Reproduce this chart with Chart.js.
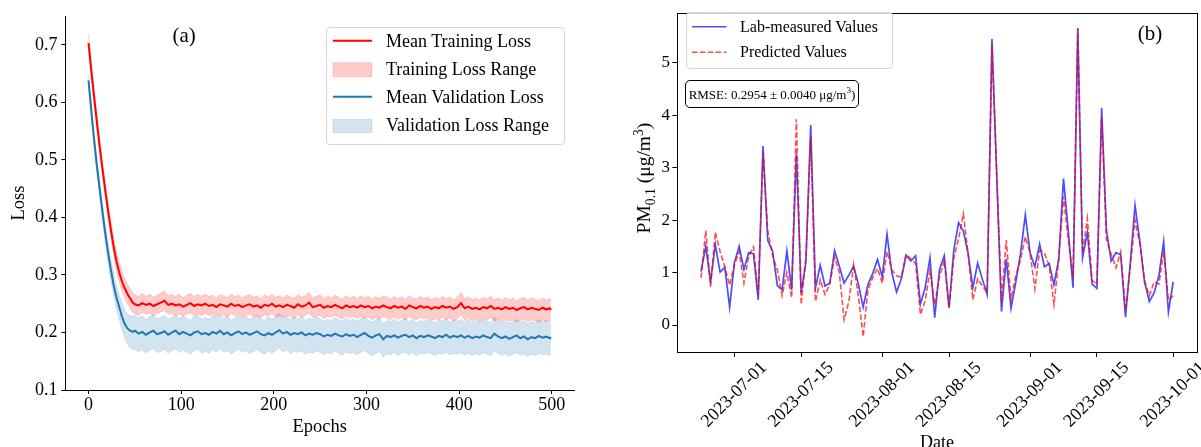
<!DOCTYPE html>
<html><head><meta charset="utf-8">
<script src="https://cdn.jsdelivr.net/npm/chart.js@4.4.1/dist/chart.umd.min.js"></script>
<style>
html,body{margin:0;padding:0;background:#fff;}
#wrap{position:relative;width:1201px;height:447px;overflow:hidden;font-family:'Liberation Serif','Times New Roman',serif;color:#000;}
#ca,#cb{position:absolute;top:0;}
#ca{left:0;} #cb{left:600px;}
.t{position:absolute;white-space:nowrap;line-height:1;transform:translate(0,-50%);}
.c{position:absolute;white-space:nowrap;line-height:1;transform:translate(-50%,-50%);}
.box{position:absolute;box-sizing:border-box;}
sub,sup{font-size:70%;line-height:0;}
</style></head><body>
<div id="wrap">
<canvas id="ca" width="600" height="447"></canvas>
<canvas id="cb" width="601" height="447"></canvas>

<div class="box" style="left:326px;top:26.7px;width:239px;height:118.3px;background:rgba(255,255,255,0.8);border:1px solid #d6d6d6;border-radius:4px;"></div>
<div class="box" style="left:686px;top:12.3px;width:207px;height:57px;background:rgba(255,255,255,0.8);border:1px solid #d6d6d6;border-radius:4px;"></div>
<div class="box" style="left:685px;top:80px;width:174px;height:28.3px;background:#fff;border:1.2px solid #000;border-radius:5px;"></div>

<svg style="position:absolute;left:0;top:0;" width="1201" height="447">
  <line x1="333" y1="40.7" x2="372" y2="40.7" stroke="#ff0000" stroke-width="2"/>
  <rect x="333" y="62.7" width="39" height="14" fill="rgba(255,0,0,0.2)" stroke="rgba(255,0,0,0.15)" stroke-width="1"/>
  <line x1="333" y1="96.7" x2="372" y2="96.7" stroke="#1f77b4" stroke-width="2"/>
  <rect x="333" y="119.3" width="39" height="13.4" fill="rgba(31,119,180,0.2)" stroke="rgba(31,119,180,0.15)" stroke-width="1"/>
  <line x1="692" y1="26.7" x2="726.5" y2="26.7" stroke="rgba(0,0,255,0.7)" stroke-width="1.6"/>
  <line x1="692" y1="52.3" x2="726.5" y2="52.3" stroke="rgba(255,0,0,0.7)" stroke-width="1.6" stroke-dasharray="5.5 2.4"/>
</svg>

<div class="t" style="left:386px;top:41.3px;font-size:18px;">Mean Training Loss</div>
<div class="t" style="left:386px;top:69px;font-size:18px;">Training Loss Range</div>
<div class="t" style="left:386px;top:97px;font-size:18px;">Mean Validation Loss</div>
<div class="t" style="left:386px;top:125px;font-size:18px;">Validation Loss Range</div>

<div class="t" style="left:740px;top:26.7px;font-size:16px;">Lab-measured Values</div>
<div class="t" style="left:740px;top:52.3px;font-size:16px;">Predicted Values</div>

<div class="c" style="left:772px;top:94.2px;font-size:13px;">RMSE: 0.2954 ± 0.0040 μg/m<sup>3</sup>)</div>

<div class="c" style="left:184.2px;top:34.8px;font-size:21px;">(a)</div>
<div class="c" style="left:1150px;top:32.6px;font-size:21px;">(b)</div>

<div class="c" style="left:644px;top:177.6px;font-size:19.5px;transform:translate(-50%,-50%) rotate(-90deg);">PM<sub>0.1</sub> (μg/m<sup>3</sup>)</div>
</div>

<script>
// ---------------- Panel (a): loss curves ----------------
const epochs = [0,3,6,9,12,15,18,21,24,27,30,33,36,39,42,45,48,
50,54,58,62,66,70,74,78,82,86,
90,94,98,102,106,110,114,118,122,126,
130,134,138,142,146,150,154,158,162,166,
170,174,178,182,186,190,194,198,202,206,
210,214,218,222,226,230,234,238,242,246,
250,254,258,262,266,270,274,278,282,286,
290,294,298,302,306,310,314,318,322,326,
330,334,338,342,346,350,354,358,362,366,
370,374,378,382,386,390,394,398,402,406,
410,414,418,422,426,430,434,438,442,446,
450,454,458,462,466,470,474,478,482,486,
490,494,498,499];

const trainMean = [0.703,0.655,0.610,0.566,0.524,0.485,0.448,0.413,0.380,0.350,0.325,0.305,0.289,0.277,0.267,0.259,0.251,
0.249,0.247,0.251,0.248,0.250,0.246,0.249,0.252,0.255,0.248,
0.250,0.247,0.249,0.245,0.248,0.251,0.246,0.249,0.247,0.250,
0.246,0.248,0.244,0.249,0.247,0.245,0.250,0.246,0.248,0.244,
0.247,0.249,0.245,0.247,0.243,0.248,0.246,0.250,0.245,0.247,
0.244,0.248,0.246,0.243,0.249,0.245,0.247,0.252,0.244,0.246,
0.248,0.243,0.246,0.244,0.248,0.245,0.242,0.247,0.244,0.246,
0.243,0.247,0.244,0.246,0.242,0.245,0.243,0.247,0.244,0.242,
0.246,0.243,0.245,0.241,0.247,0.244,0.242,0.246,0.243,0.245,
0.241,0.244,0.242,0.246,0.243,0.245,0.241,0.244,0.251,0.242,
0.245,0.241,0.243,0.240,0.244,0.242,0.246,0.241,0.243,0.240,
0.244,0.241,0.243,0.239,0.242,0.244,0.240,0.243,0.241,0.239,
0.243,0.240,0.242,0.239];

const trainUpper = [0.720,0.669,0.623,0.579,0.537,0.498,0.461,0.427,0.395,0.366,0.342,0.322,0.306,0.294,0.284,0.276,0.268,
0.266,0.262,0.268,0.263,0.267,0.261,0.265,0.269,0.272,0.264,
0.266,0.262,0.267,0.260,0.265,0.268,0.262,0.266,0.263,0.267,
0.262,0.265,0.260,0.266,0.263,0.261,0.267,0.262,0.265,0.260,
0.264,0.266,0.261,0.264,0.259,0.265,0.262,0.267,0.261,0.264,
0.260,0.265,0.262,0.259,0.266,0.261,0.264,0.270,0.260,0.263,
0.265,0.259,0.263,0.260,0.265,0.261,0.258,0.264,0.260,0.263,
0.259,0.264,0.260,0.263,0.258,0.262,0.259,0.264,0.261,0.258,
0.263,0.259,0.262,0.257,0.264,0.260,0.258,0.263,0.259,0.262,
0.257,0.261,0.258,0.263,0.259,0.262,0.257,0.261,0.270,0.258,
0.262,0.257,0.260,0.256,0.261,0.258,0.263,0.257,0.260,0.256,
0.261,0.257,0.260,0.255,0.259,0.261,0.256,0.260,0.258,0.255,
0.260,0.256,0.259,0.255];

const trainLower = [0.690,0.642,0.597,0.553,0.511,0.472,0.435,0.399,0.365,0.334,0.308,0.288,0.272,0.260,0.250,0.242,0.234,
0.233,0.230,0.235,0.231,0.234,0.229,0.232,0.236,0.238,0.231,
0.233,0.229,0.232,0.228,0.231,0.234,0.229,0.232,0.229,0.233,
0.229,0.231,0.227,0.232,0.229,0.227,0.233,0.229,0.231,0.226,
0.229,0.232,0.227,0.229,0.225,0.231,0.228,0.233,0.227,0.229,
0.226,0.230,0.228,0.224,0.231,0.227,0.229,0.234,0.226,0.228,
0.230,0.224,0.228,0.226,0.230,0.226,0.223,0.229,0.225,0.228,
0.224,0.228,0.225,0.227,0.222,0.226,0.224,0.228,0.225,0.222,
0.227,0.223,0.226,0.221,0.228,0.224,0.222,0.226,0.223,0.225,
0.221,0.224,0.222,0.226,0.222,0.225,0.220,0.224,0.231,0.221,
0.225,0.220,0.223,0.219,0.224,0.221,0.226,0.220,0.222,0.219,
0.223,0.220,0.222,0.218,0.221,0.223,0.219,0.222,0.220,0.218,
0.222,0.219,0.221,0.219];

const valMean = [0.638,0.585,0.535,0.490,0.450,0.410,0.373,0.340,0.310,0.283,0.262,0.245,0.228,0.215,0.207,0.203,0.201,
0.203,0.198,0.201,0.196,0.200,0.203,0.197,0.199,0.202,0.196,
0.200,0.203,0.197,0.201,0.198,0.195,0.200,0.202,0.197,0.199,
0.196,0.201,0.198,0.203,0.197,0.200,0.195,0.199,0.202,0.197,
0.200,0.196,0.199,0.202,0.197,0.195,0.199,0.196,0.200,0.204,
0.198,0.201,0.196,0.199,0.197,0.200,0.195,0.198,0.196,0.199,
0.197,0.193,0.196,0.194,0.198,0.195,0.193,0.197,0.194,0.196,
0.192,0.196,0.199,0.194,0.191,0.195,0.197,0.188,0.194,0.192,
0.195,0.191,0.194,0.196,0.192,0.195,0.190,0.194,0.192,0.195,
0.193,0.190,0.194,0.192,0.196,0.191,0.194,0.192,0.195,0.191,
0.194,0.190,0.193,0.191,0.195,0.192,0.190,0.198,0.193,0.190,
0.193,0.189,0.192,0.195,0.190,0.193,0.188,0.192,0.190,0.194,
0.191,0.193,0.190,0.192];

const valUpper = [0.648,0.596,0.547,0.503,0.464,0.425,0.389,0.357,0.328,0.302,0.282,0.266,0.251,0.239,0.232,0.229,0.228,
0.231,0.225,0.229,0.222,0.228,0.231,0.224,0.226,0.230,0.223,
0.227,0.231,0.224,0.229,0.225,0.221,0.228,0.230,0.223,0.226,
0.223,0.229,0.225,0.231,0.224,0.228,0.221,0.226,0.230,0.224,
0.228,0.222,0.226,0.230,0.224,0.221,0.227,0.223,0.228,0.233,
0.225,0.229,0.222,0.226,0.224,0.228,0.221,0.225,0.223,0.227,
0.224,0.219,0.223,0.221,0.226,0.222,0.219,0.225,0.221,0.223,
0.219,0.224,0.227,0.221,0.218,0.222,0.225,0.215,0.221,0.219,
0.223,0.218,0.221,0.224,0.219,0.223,0.217,0.221,0.219,0.223,
0.220,0.217,0.222,0.219,0.224,0.218,0.222,0.219,0.223,0.218,
0.222,0.217,0.220,0.218,0.223,0.219,0.217,0.227,0.220,0.217,
0.221,0.216,0.219,0.223,0.217,0.221,0.215,0.219,0.217,0.222,
0.219,0.221,0.217,0.220];

const valLower = [0.628,0.574,0.523,0.477,0.436,0.395,0.357,0.323,0.292,0.264,0.242,0.224,0.205,0.190,0.180,0.173,0.170,
0.171,0.166,0.170,0.164,0.169,0.172,0.165,0.167,0.171,0.164,
0.168,0.172,0.165,0.170,0.166,0.162,0.169,0.171,0.164,0.167,
0.164,0.170,0.166,0.172,0.165,0.169,0.162,0.167,0.171,0.165,
0.169,0.163,0.167,0.171,0.165,0.162,0.168,0.164,0.169,0.173,
0.166,0.170,0.163,0.167,0.165,0.169,0.162,0.166,0.164,0.168,
0.166,0.161,0.165,0.163,0.168,0.164,0.161,0.166,0.163,0.165,
0.161,0.166,0.169,0.163,0.159,0.164,0.167,0.157,0.163,0.161,
0.165,0.160,0.164,0.166,0.161,0.165,0.159,0.164,0.162,0.165,
0.163,0.160,0.164,0.162,0.166,0.161,0.164,0.162,0.165,0.161,
0.164,0.160,0.163,0.161,0.165,0.162,0.160,0.168,0.163,0.160,
0.163,0.159,0.162,0.165,0.160,0.163,0.158,0.162,0.160,0.164,
0.161,0.163,0.160,0.162];

const epochTicks = [0,100,200,300,400,500];
const lossTicks = [0.1,0.2,0.3,0.4,0.5,0.6,0.7];

// ---------------- Panel (b): PM0.1 time series ----------------
const dates = ['2023-06-24','2023-06-25','2023-06-26','2023-06-27','2023-06-28','2023-06-29','2023-06-30',
'2023-07-01','2023-07-02','2023-07-03','2023-07-04','2023-07-05','2023-07-06','2023-07-07','2023-07-08','2023-07-09','2023-07-10',
'2023-07-11','2023-07-12','2023-07-13','2023-07-14','2023-07-15','2023-07-16','2023-07-17','2023-07-18','2023-07-19','2023-07-20',
'2023-07-21','2023-07-22','2023-07-23','2023-07-24','2023-07-25','2023-07-26','2023-07-27','2023-07-28','2023-07-29','2023-07-30','2023-07-31',
'2023-08-01','2023-08-02','2023-08-03','2023-08-04','2023-08-05','2023-08-06','2023-08-07','2023-08-08','2023-08-09','2023-08-10',
'2023-08-11','2023-08-12','2023-08-13','2023-08-14','2023-08-15','2023-08-16','2023-08-17','2023-08-18','2023-08-19','2023-08-20',
'2023-08-21','2023-08-22','2023-08-23','2023-08-24','2023-08-26','2023-08-27','2023-08-28','2023-08-29','2023-08-30','2023-08-31',
'2023-09-01','2023-09-02','2023-09-03','2023-09-04','2023-09-05','2023-09-06','2023-09-07','2023-09-08','2023-09-09','2023-09-10',
'2023-09-11','2023-09-12','2023-09-13','2023-09-14','2023-09-15','2023-09-16','2023-09-17','2023-09-18','2023-09-19','2023-09-20',
'2023-09-21','2023-09-22','2023-09-23','2023-09-24','2023-09-25','2023-09-26','2023-09-27','2023-09-28','2023-09-29','2023-09-30',
'2023-10-01'];

const measured = [1.02,1.50,0.82,1.53,1.01,1.10,0.34,1.19,1.50,1.06,
1.38,1.36,0.48,3.41,1.61,1.41,0.75,0.67,1.41,0.67,
3.27,0.62,1.20,3.81,0.71,1.14,0.74,0.80,1.42,1.12,
0.80,0.95,1.12,0.78,0.34,0.77,0.98,1.25,0.92,1.73,
1.00,0.63,0.88,1.33,1.22,1.32,0.40,0.71,1.28,0.14,
1.06,1.32,0.33,1.43,1.95,1.79,1.37,0.71,1.18,0.87,
0.58,5.45,0.26,1.26,0.32,0.82,1.37,2.10,1.37,
1.11,1.54,1.11,1.17,0.77,1.25,2.79,1.80,0.71,5.65,
1.28,1.77,0.78,0.70,4.14,1.81,1.22,1.38,1.34,0.15,
1.18,2.28,1.60,0.82,0.45,0.61,0.94,1.59,0.25,0.82];

const predicted = [0.90,1.80,0.74,1.77,1.40,1.10,0.76,1.15,1.40,0.80,
1.31,1.49,0.57,3.28,1.79,1.33,1.05,0.56,1.00,0.52,
3.92,0.39,1.31,3.58,0.45,0.86,0.58,0.78,1.29,1.00,
0.10,0.45,1.15,0.55,-0.22,0.67,0.90,1.08,0.80,1.40,
1.05,0.94,0.91,1.35,1.26,1.17,0.20,0.46,1.04,0.39,
0.92,1.23,0.31,1.27,1.64,2.12,1.35,0.48,0.88,0.74,
0.63,5.33,0.45,1.62,0.50,0.94,1.25,1.68,1.37,
0.69,1.42,1.37,1.13,0.39,1.25,2.45,1.62,0.90,5.66,
1.37,2.03,0.85,0.78,3.95,1.63,1.35,1.09,1.40,0.28,
1.10,2.00,1.55,0.85,0.56,0.82,0.78,1.40,0.48,0.56];

const dateTicks = ['2023-07-01','2023-07-15','2023-08-01','2023-08-15','2023-09-01','2023-09-15','2023-10-01'];
const pmTicks = [0,1,2,3,4,5];

// ---------------- helpers ----------------
const F = "'Liberation Serif', 'Times New Roman', serif";
const dayNum = s => { const p = s.split('-').map(Number); return Date.UTC(p[0], p[1] - 1, p[2]) / 86400000; };
const margins = (lo, hi) => { const r = hi - lo; return [lo - 0.05 * r, hi + 0.05 * r]; };
const gridOpts = len => ({ display: true, drawOnChartArea: false, drawTicks: true, tickLength: len, color: '#000', tickColor: '#000', lineWidth: 1, tickWidth: 1 });

// ---------------- chart (a) ----------------
const ptsA = arr => epochs.map((e, i) => ({ x: e, y: arr[i] }));
const [axMin, axMax] = margins(epochs[0], epochs[epochs.length - 1]);

new Chart(document.getElementById('ca'), {
  type: 'line',
  data: { datasets: [
    { label: 'Mean Training Loss', data: ptsA(trainMean), borderColor: '#ff0000', borderWidth: 2, pointRadius: 0, fill: false, order: 0 },
    { label: 'Mean Validation Loss', data: ptsA(valMean), borderColor: '#1f77b4', borderWidth: 2, pointRadius: 0, fill: false, order: 1 },
    { label: 'Training Loss Range', data: ptsA(trainUpper), borderColor: 'rgba(255,0,0,0.15)', borderWidth: 1, backgroundColor: 'rgba(255,0,0,0.2)', pointRadius: 0, fill: 3, order: 2 },
    { label: 'Training Loss Range (lower)', data: ptsA(trainLower), borderColor: 'rgba(255,0,0,0.15)', borderWidth: 1, pointRadius: 0, fill: false, order: 3 },
    { label: 'Validation Loss Range', data: ptsA(valUpper), borderColor: 'rgba(31,119,180,0.15)', borderWidth: 1, backgroundColor: 'rgba(31,119,180,0.2)', pointRadius: 0, fill: 5, order: 4 },
    { label: 'Validation Loss Range (lower)', data: ptsA(valLower), borderColor: 'rgba(31,119,180,0.15)', borderWidth: 1, pointRadius: 0, fill: false, order: 5 }
  ]},
  options: {
    responsive: false, animation: false, devicePixelRatio: 1,
    layout: { padding: { left: 0, right: 26, top: 16, bottom: 0 } },
    elements: { line: { tension: 0 } },
    plugins: { legend: { display: false }, tooltip: { enabled: false } },
    scales: {
      x: {
        type: 'linear', min: axMin, max: axMax,
        afterBuildTicks: s => { s.ticks = epochTicks.map(v => ({ value: v })); },
        afterFit: s => { s.height = 57; },
        ticks: { autoSkip: false, maxRotation: 0, padding: 0, color: '#000', font: { family: F, size: 18 }, callback: v => String(v) },
        grid: gridOpts(4),
        border: { display: true, color: '#000', width: 1 },
        title: { display: true, text: 'Epochs', color: '#000', font: { family: F, size: 18.5 }, padding: { top: 0, bottom: 9.2 } }
      },
      y: {
        type: 'linear', min: 0.1, max: 0.75,
        afterBuildTicks: s => { s.ticks = lossTicks.map(v => ({ value: v })); },
        afterFit: s => { s.width = 65.4; },
        ticks: { padding: 4, color: '#000', font: { family: F, size: 18 }, callback: v => v.toFixed(1) },
        grid: gridOpts(4),
        border: { display: true, color: '#000', width: 1 },
        title: { display: true, text: 'Loss', color: '#000', font: { family: F, size: 18.5 }, padding: { top: 7.9, bottom: 0 } }
      }
    }
  }
});

// ---------------- chart (b) ----------------
const xs = dates.map(dayNum);
const [bxMin, bxMax] = margins(Math.min(...xs), Math.max(...xs));
const allY = measured.concat(predicted);
const [byMin, byMax] = margins(Math.min(...allY), Math.max(...allY));

const frame = {
  id: 'frame',
  afterDraw(chart) {
    const { ctx, chartArea: a } = chart;
    ctx.save();
    ctx.strokeStyle = '#000'; ctx.lineWidth = 1;
    const l = Math.round(a.left) + 0.5, t = Math.round(a.top) + 0.5;
    ctx.strokeRect(l, t, Math.round(a.right) - Math.round(a.left), Math.round(a.bottom) - Math.round(a.top));
    ctx.restore();
  }
};

new Chart(document.getElementById('cb'), {
  type: 'line',
  data: { datasets: [
    { label: 'Predicted Values', data: xs.map((x, i) => ({ x: x, y: predicted[i] })), borderColor: 'rgba(255,0,0,0.7)', borderDash: [5.5, 2.4], borderWidth: 1.6, pointRadius: 0, fill: false, order: 0 },
    { label: 'Lab-measured Values', data: xs.map((x, i) => ({ x: x, y: measured[i] })), borderColor: 'rgba(0,0,255,0.7)', borderWidth: 1.7, pointRadius: 0, fill: false, order: 1 }
  ]},
  options: {
    responsive: false, animation: false, devicePixelRatio: 1,
    layout: { padding: { left: 0, right: 4.2, top: 3.3, bottom: 0 } },
    elements: { line: { tension: 0 } },
    plugins: { legend: { display: false }, tooltip: { enabled: false } },
    scales: {
      x: {
        type: 'linear', min: bxMin, max: bxMax,
        afterBuildTicks: s => { s.ticks = dateTicks.map(d => ({ value: dayNum(d) })); },
        afterFit: s => { s.height = 95; },
        ticks: { autoSkip: false, minRotation: 45, maxRotation: 45, labelOffset: 29.5, padding: 0.4, color: '#000', font: { family: F, size: 18 }, callback: (v, i) => dateTicks[i] },
        grid: gridOpts(5),
        border: { display: false },
        title: { display: true, text: 'Date', color: '#000', font: { family: F, size: 18 }, padding: { top: 0, bottom: -6.6 } }
      },
      y: {
        type: 'linear', min: byMin, max: byMax,
        afterBuildTicks: s => { s.ticks = pmTicks.map(v => ({ value: v })); },
        afterFit: s => { s.width = 77.4; },
        ticks: { padding: 2.4, color: '#000', font: { family: F, size: 17 }, callback: v => String(v) },
        grid: gridOpts(5),
        border: { display: false }
      }
    }
  },
  plugins: [frame]
});
</script>
</body></html>
